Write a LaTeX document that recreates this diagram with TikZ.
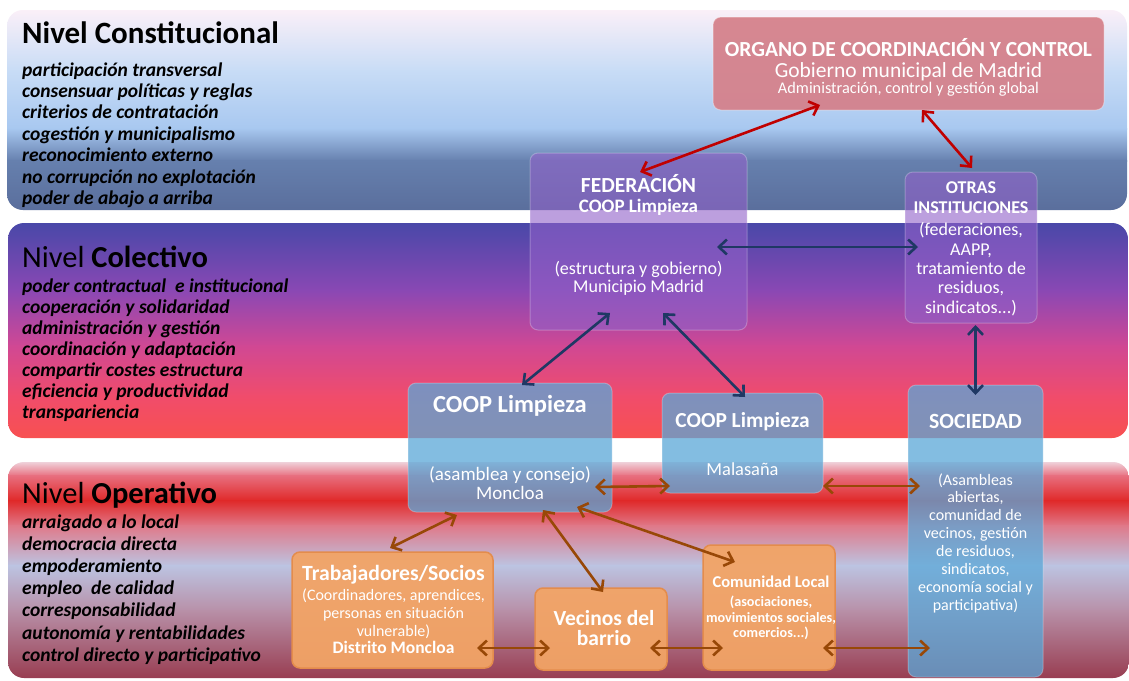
\documentclass[tikz,border=0pt]{standalone}
\usepackage{fontspec}
\setmainfont{Carlito}
\usetikzlibrary{arrows.meta,calc}
\definecolor{orgc}{HTML}{D5808A}
\definecolor{purc}{HTML}{9060C8}
\definecolor{bluc}{HTML}{5AA8D8}
\definecolor{orac}{HTML}{F2A466}
\definecolor{oraedge}{HTML}{E48C4C}
\definecolor{redar}{HTML}{C00000}
\definecolor{navar}{HTML}{1F3864}
\definecolor{broar}{HTML}{984807}
\definecolor{ba1}{HTML}{FBF0F8}
\definecolor{ba2}{HTML}{C8DCF6}
\definecolor{ba3}{HTML}{A8C8F0}
\definecolor{ba4}{HTML}{6680AE}
\definecolor{ba5}{HTML}{5A6E9C}
\definecolor{bb1}{HTML}{4848A8}
\definecolor{bb2}{HTML}{8A48B4}
\definecolor{bb3}{HTML}{D04894}
\definecolor{bb4}{HTML}{F04C6C}
\definecolor{bb5}{HTML}{F85050}
\definecolor{bc1}{HTML}{F0D8E0}
\definecolor{bc2}{HTML}{E87080}
\definecolor{bc3}{HTML}{E02828}
\definecolor{bc4}{HTML}{E07888}
\definecolor{bc5}{HTML}{BCC4E2}
\definecolor{bc6}{HTML}{B890A8}
\definecolor{bc7}{HTML}{983C50}
\tikzset{
  lvlhead/.style={anchor=base west, inner sep=0pt, font=\fontsize{30.5}{32}\selectfont},
  lvlline/.style={anchor=base west, inner sep=0pt, font=\fontsize{19.5}{21}\selectfont\bfseries\itshape},
  wt/.style={anchor=base, inner sep=0pt, text=white},
  boxbase/.style={rectangle, rounded corners=8pt, inner sep=0pt, outer sep=0pt},
  orgbox/.style={boxbase, fill=orgc, fill opacity=0.93, draw=white, draw opacity=0.35, line width=1pt},
  purbox/.style={boxbase, fill=purc, fill opacity=0.6, draw=white, draw opacity=0.25, line width=1pt},
  blubox/.style={boxbase, fill=bluc, fill opacity=0.75, draw=white, draw opacity=0.25, line width=1pt},
  orabox/.style={boxbase, fill=orac, fill opacity=0.95, draw=oraedge, line width=1.5pt},
  arr/.style={line width=2.6pt, {Straight Barb[length=8pt,width=15pt]}-{Straight Barb[length=8pt,width=15pt]}},
  redarr/.style={arr, draw=redar},
  navarr/.style={arr, draw=navar},
  broarr/.style={arr, draw=broar},
}
\begin{document}
\begin{tikzpicture}[x=1pt,y=-1pt]
\useasboundingbox (0,0) rectangle (1129,680);
\fill[white] (0,0) rectangle (1129,680);

% ---- band 1: constitucional
\begin{scope}
\clip[rounded corners=16pt] (7,10) rectangle (1127,210);
\shade[top color=ba1, bottom color=ba2] (0,9) rectangle (1129,71);
\shade[top color=ba2, bottom color=ba3] (0,70) rectangle (1129,129);
\shade[top color=ba3, bottom color=ba4] (0,128) rectangle (1129,161);
\shade[top color=ba4, bottom color=ba5] (0,160) rectangle (1129,211);
\end{scope}
% ---- band 2: colectivo
\begin{scope}
\clip[rounded corners=16pt] (8,223) rectangle (1128,438);
\shade[top color=bb1, bottom color=bb2] (0,222) rectangle (1129,291);
\shade[top color=bb2, bottom color=bb3] (0,290) rectangle (1129,346);
\shade[top color=bb3, bottom color=bb4] (0,345) rectangle (1129,396);
\shade[top color=bb4, bottom color=bb5] (0,395) rectangle (1129,439);
\end{scope}
% ---- band 3: operativo
\begin{scope}
\clip[rounded corners=16pt] (8,462) rectangle (1129,678);
\shade[top color=bc1, bottom color=bc2] (0,461) rectangle (1129,476);
\shade[top color=bc2, bottom color=bc3] (0,475) rectangle (1129,501);
\shade[top color=bc3, bottom color=bc4] (0,500) rectangle (1129,526);
\shade[top color=bc4, bottom color=bc5] (0,525) rectangle (1129,566);
\shade[top color=bc5, bottom color=bc6] (0,565) rectangle (1129,611);
\shade[top color=bc6, bottom color=bc7] (0,610) rectangle (1129,679);
\end{scope}

% ---- left texts
\node[lvlhead, font=\fontsize{31}{33}\selectfont] (hcon) at (22,43) {\bfseries Nivel Constitucional};
\foreach \t [count=\i] in {participación transversal, consensuar políticas y reglas, criterios de contratación, cogestión y municipalismo, reconocimiento externo, no corrupción no explotación, poder de abajo a arriba}
  \node[lvlline] (con\i) at (22,{76+21.4*(\i-1)}) {\t};
\node[lvlhead] (hcol) at (22,267) {Nivel \textbf{Colectivo}};
\foreach \t [count=\i] in {poder contractual\ \ e institucional, cooperación y solidaridad, administración y gestión, coordinación y adaptación, compartir costes estructura, eficiencia y productividad, transpariencia}
  \node[lvlline] (col\i) at (22,{292+21.1*(\i-1)}) {\t};
\node[lvlhead] (hope) at (22,503) {Nivel \textbf{Operativo}};
\foreach \t [count=\i] in {arraigado a lo local, democracia directa, empoderamiento, empleo\ \ de calidad, corresponsabilidad, autonomía y rentabilidades, control directo y participativo}
  \node[lvlline] (ope\i) at (22,{528+22.2*(\i-1)}) {\t};

% ---- boxes
\node[orgbox, minimum width=391pt, minimum height=93pt] (org) at (908.5,63.5) {};
\node[purbox, minimum width=217pt, minimum height=177pt] (fed) at (638.5,241.5) {};
\node[purbox, minimum width=132pt, minimum height=151pt] (otras) at (971,247.5) {};
\node[blubox, minimum width=204pt, minimum height=129pt] (mon) at (510,447.5) {};
\node[blubox, minimum width=161pt, minimum height=100pt] (mal) at (742.5,443) {};
\node[blubox, minimum width=135pt, minimum height=292pt] (soc) at (975.5,531) {};
\node[orabox, minimum width=201pt, minimum height=116pt] (trab) at (392.5,610) {};
\node[orabox, minimum width=132pt, minimum height=82pt] (vec) at (601,629) {};
\node[orabox, minimum width=132pt, minimum height=125pt] (com) at (769,607.5) {};

% ---- box texts
\node[wt, font=\fontsize{21.5}{24}\selectfont\bfseries] (org1) at (908.5,56) {ORGANO DE COORDINACIÓN Y CONTROL};
\node[wt, font=\fontsize{21.5}{24}\selectfont] (org2) at (908.5,77) {Gobierno municipal de Madrid};
\node[wt, font=\fontsize{16.3}{18}\selectfont] (org3) at (908.5,93) {Administración, control y gestión global};

\node[wt, font=\fontsize{21.5}{24}\selectfont\bfseries] (fed1) at (638.5,192) {FEDERACIÓN};
\node[wt, font=\fontsize{19}{21}\selectfont\bfseries] (fed2) at (638.5,212) {COOP Limpieza};
\node[wt, font=\fontsize{18}{20}\selectfont] (fed3) at (638.5,274) {(estructura y gobierno)};
\node[wt, font=\fontsize{18}{20}\selectfont] (fed4) at (638.5,292) {Municipio Madrid};

\node[wt, font=\fontsize{18}{20}\selectfont\bfseries] (otr1) at (971,193) {OTRAS};
\node[wt, font=\fontsize{18}{20}\selectfont\bfseries] (otr2) at (971,213) {INSTITUCIONES};
\node[wt, font=\fontsize{18}{20}\selectfont] (otrl1) at (971,235) {(federaciones,};
\node[wt, font=\fontsize{18}{20}\selectfont] (otrl2) at (971,255) {AAPP,};
\node[wt, font=\fontsize{18}{20}\selectfont] (otrl3) at (971,274) {tratamiento de};
\node[wt, font=\fontsize{18}{20}\selectfont] (otrl4) at (971,293) {residuos,};
\node[wt, font=\fontsize{18}{20}\selectfont] (otrl5) at (971,313) {sindicatos...)};

\node[wt, font=\fontsize{24.5}{27}\selectfont\bfseries] (mon1) at (510,412) {COOP Limpieza};
\node[wt, font=\fontsize{19}{21}\selectfont] (mon2) at (510,480) {(asamblea y consejo)};
\node[wt, font=\fontsize{19}{21}\selectfont] (mon3) at (510,499) {Moncloa};

\node[wt, font=\fontsize{21.4}{24}\selectfont\bfseries] (mal1) at (742.5,427) {COOP Limpieza};
\node[wt, font=\fontsize{18.4}{20}\selectfont] (mal2) at (742.5,475) {Malasaña};

\node[wt, font=\fontsize{21.7}{24}\selectfont\bfseries] (soc1) at (975.5,428) {SOCIEDAD};
\node[wt, font=\fontsize{16}{18}\selectfont] (socl1) at (975.5,485) {(Asambleas};
\node[wt, font=\fontsize{16}{18}\selectfont] (socl2) at (975.5,502.9) {abiertas,};
\node[wt, font=\fontsize{16}{18}\selectfont] (socl3) at (975.5,520.8) {comunidad de};
\node[wt, font=\fontsize{16}{18}\selectfont] (socl4) at (975.5,538.7) {vecinos, gestión};
\node[wt, font=\fontsize{16}{18}\selectfont] (socl5) at (975.5,556.6) {de residuos,};
\node[wt, font=\fontsize{16}{18}\selectfont] (socl6) at (975.5,574.5) {sindicatos,};
\node[wt, font=\fontsize{16}{18}\selectfont] (socl7) at (975.5,592.4) {economía social y};
\node[wt, font=\fontsize{16}{18}\selectfont] (socl8) at (975.5,610.3) {participativa)};

\node[wt, font=\fontsize{21.7}{24}\selectfont\bfseries] (tra1) at (393.5,580) {Trabajadores/Socios};
\node[wt, font=\fontsize{16}{18}\selectfont] (tra2) at (393.5,600.5) {(Coordinadores, aprendices,};
\node[wt, font=\fontsize{16}{18}\selectfont] (tra3) at (393.5,618) {personas en situación};
\node[wt, font=\fontsize{16}{18}\selectfont] (tra4) at (393.5,636) {vulnerable)};
\node[wt, font=\fontsize{17.5}{19}\selectfont\bfseries] (tra5) at (393.5,653) {Distrito Moncloa};

\node[wt, font=\fontsize{21.5}{24}\selectfont\bfseries] (vec1) at (604,625) {Vecinos del};
\node[wt, font=\fontsize{21.5}{24}\selectfont\bfseries] (vec2) at (604,645) {barrio};

\node[wt, font=\fontsize{16.5}{18}\selectfont\bfseries] (com1) at (771,587) {Comunidad Local};
\node[wt, font=\fontsize{14.2}{16}\selectfont\bfseries] (com2) at (771,606) {(asociaciones,};
\node[wt, font=\fontsize{14.2}{16}\selectfont\bfseries] (com3) at (771,622) {movimientos sociales,};
\node[wt, font=\fontsize{14.2}{16}\selectfont\bfseries] (com4) at (771,637) {comercios...)};

% ---- connectors
\draw[redarr] ($(org.south)+(-88.5,-5)$) -- ($(fed.north)+(1.5,19)$);
\draw[redarr] ($(org.south)+(13.5,0)$) -- ($(otras.north)+(1,-4)$);

\draw[navarr] ($(fed.east)+(-30,5.5)$) -- ($(otras.west)+(13,-0.5)$);
\draw[navarr] ($(fed.south)+(-28.5,-17)$) -- ($(mon.north)+(12,2)$);
\draw[navarr] ($(fed.south)+(24.5,-17)$) -- ($(mal.north)+(2.5,4)$);
\draw[navarr] ($(otras.south)+(4.5,2)$) -- ($(soc.north)+(0,10)$);

\draw[broarr] ($(mon.east)+(-17,39.5)$) -- ($(mal.west)+(8,43)$);
\draw[broarr] ($(mal.east)+(0,43)$) -- ($(soc.west)+(12,-45)$);
\draw[broarr] ($(mon.south)+(-53,3)$) -- ($(trab.north)+(-2.5,-4)$);
\draw[broarr] ($(mon.south)+(33,-2)$) -- ($(vec.north)+(2,4)$);
\draw[broarr] ($(mon.south)+(67,-5)$) -- ($(com.north)+(-34,17)$);
\draw[broarr] ($(trab.east)+(-16,38)$) -- ($(vec.west)+(15,19)$);
\draw[broarr] ($(vec.east)+(-17,19)$) -- ($(com.west)+(20,40.5)$);
\draw[broarr] ($(com.east)+(-12,40.5)$) -- ($(soc.west)+(22,117)$);
\end{tikzpicture}
\end{document}
